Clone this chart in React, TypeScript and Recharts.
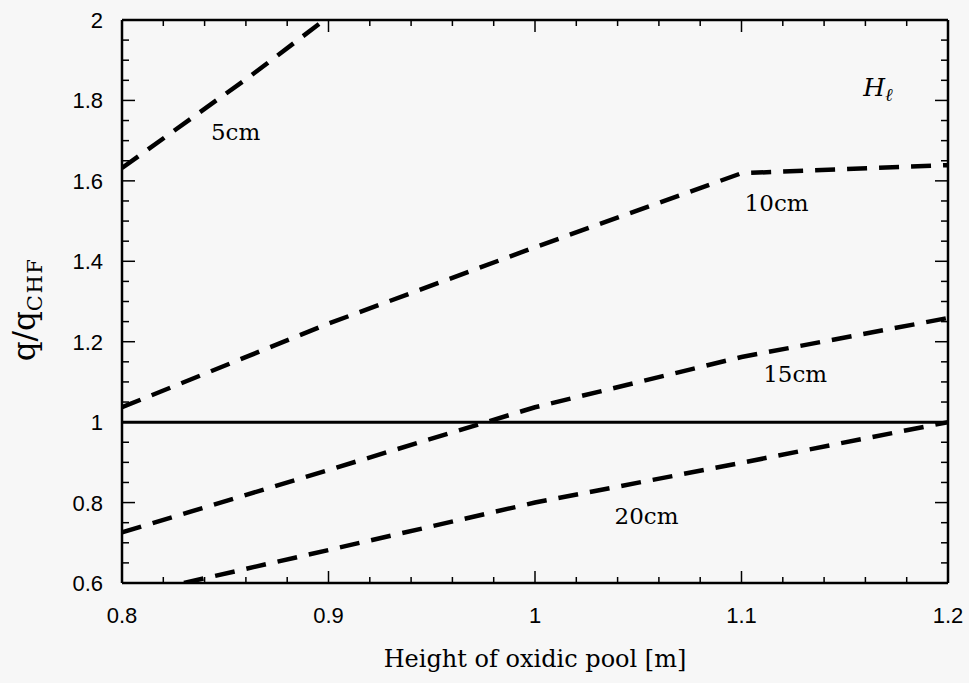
import { LineChart, Line, XAxis, YAxis, ReferenceLine, ReferenceDot } from 'recharts';

// tick positions (minor + major) and the labelled ones
const xTicks = [0.8, 0.82, 0.84, 0.86, 0.88, 0.9, 0.92, 0.94, 0.96, 0.98, 1, 1.02, 1.04, 1.06, 1.08, 1.1, 1.12, 1.14, 1.16, 1.18, 1.2];
const xMajor = [0.8, 0.9, 1, 1.1, 1.2];
const yTicks = [0.6, 0.65, 0.7, 0.75, 0.8, 0.85, 0.9, 0.95, 1, 1.05, 1.1, 1.15, 1.2, 1.25, 1.3, 1.35, 1.4, 1.45, 1.5, 1.55, 1.6, 1.65, 1.7, 1.75, 1.8, 1.85, 1.9, 1.95, 2];
const yMajor = [0.6, 0.8, 1, 1.2, 1.4, 1.6, 1.8, 2];

// q/qCHF vs height of oxidic pool, one list per light metal layer thickness
const layer5cm = [
  { h: 0.8, q: 1.632 },
  { h: 0.862, q: 1.86 },
  { h: 0.898, q: 2.0 },
];
const layer10cm = [
  { h: 0.8, q: 1.037 },
  { h: 0.9, q: 1.245 },
  { h: 1.0, q: 1.435 },
  { h: 1.1, q: 1.619 },
  { h: 1.2, q: 1.639 },
];
const layer15cm = [
  { h: 0.8, q: 0.726 },
  { h: 0.9, q: 0.881 },
  { h: 1.0, q: 1.037 },
  { h: 1.1, q: 1.162 },
  { h: 1.2, q: 1.259 },
];
const layer20cm = [
  { h: 0.83, q: 0.6 },
  { h: 0.9, q: 0.682 },
  { h: 1.0, q: 0.8 },
  { h: 1.1, q: 0.899 },
  { h: 1.2, q: 1.0 },
];

const curveLabels = [
  { text: '5cm', h: 0.855, q: 1.721 },
  { text: '10cm', h: 1.117, q: 1.545 },
  { text: '15cm', h: 1.126, q: 1.119 },
  { text: '20cm', h: 1.054, q: 0.766 },
];

const SANS = 'Liberation Sans, Arial, sans-serif';
const SERIF = 'DejaVu Serif, serif';

const isMajor = (v: number, list: number[]) => list.some(m => Math.abs(m - v) < 1e-6);

const BottomTick = ({ x, y, payload }: any) => {
  const major = isMajor(payload.value, xMajor);
  return (
    <g>
      <line x1={x} y1={y} x2={x} y2={y - (major ? 12 : 6)} stroke="#000" strokeWidth={1.5} />
      {major && (
        <text x={x} y={y + 40} textAnchor="middle" style={{ fontFamily: SANS, fontSize: 22 }} fill="#000">
          {String(payload.value)}
        </text>
      )}
    </g>
  );
};

const TopTick = ({ x, y, payload }: any) => {
  const major = isMajor(payload.value, xMajor);
  return <line x1={x} y1={y} x2={x} y2={y + (major ? 12 : 6)} stroke="#000" strokeWidth={1.5} />;
};

const LeftTick = ({ x, y, payload }: any) => {
  const major = isMajor(payload.value, yMajor);
  return (
    <g>
      <line x1={x} y1={y} x2={x + (major ? 13 : 7)} y2={y} stroke="#000" strokeWidth={1.5} />
      {major && (
        <text x={x - 19} y={y + 8} textAnchor="end" style={{ fontFamily: SANS, fontSize: 22 }} fill="#000">
          {String(payload.value)}
        </text>
      )}
    </g>
  );
};

const RightTick = ({ x, y, payload }: any) => {
  const major = isMajor(payload.value, yMajor);
  return <line x1={x} y1={y} x2={x - (major ? 13 : 7)} y2={y} stroke="#000" strokeWidth={1.5} />;
};

const XTitle = ({ viewBox }: any) => (
  <text x={viewBox.x + viewBox.width / 2} y={viewBox.y + 84} textAnchor="middle" style={{ fontFamily: SERIF, fontSize: 24 }} fill="#000">
    Height of oxidic pool [m]
  </text>
);

const YTitle = ({ viewBox }: any) => {
  const cx = viewBox.x - 27;
  const cy = viewBox.y + viewBox.height / 2 + 8;
  return (
    <text x={cx} y={cy} transform={`rotate(-90, ${cx}, ${cy})`} textAnchor="middle" style={{ fontFamily: SERIF, fontSize: 31 }} fill="#000">
      q/q
      <tspan style={{ fontSize: 21 }} dy={7} letterSpacing={1.5}>CHF</tspan>
    </text>
  );
};

const CurveLabel = (text: string) => ({ viewBox }: any) => (
  <text
    x={viewBox.x + viewBox.width / 2}
    y={viewBox.y + viewBox.height / 2 + 8}
    textAnchor="middle"
    style={{ fontFamily: SERIF, fontSize: 23 }}
    fill="#000"
  >
    {text}
  </text>
);

const HLabel = ({ viewBox }: any) => (
  <text x={viewBox.x + viewBox.width / 2} y={viewBox.y + viewBox.height / 2 + 8} textAnchor="middle" style={{ fontFamily: SERIF }} fill="#000">
    <tspan fontStyle="italic" style={{ fontSize: 25 }}>H</tspan>
    <tspan fontStyle="italic" style={{ fontSize: 18 }} dy={5}>ℓ</tspan>
  </text>
);

const dashProps = {
  type: 'linear' as const,
  dataKey: 'q',
  stroke: '#000',
  strokeWidth: 4.5,
  strokeDasharray: '20 12',
  dot: false,
  activeDot: false,
  isAnimationActive: false,
};

const frame = { stroke: '#000', strokeWidth: 2.5 };

export default function App() {
  return (
    <div style={{ position: 'absolute', left: 0, top: 0, width: 969, height: 683, background: '#f7f7f7' }}>
      <LineChart width={969} height={683} margin={{ top: 19, right: 20, bottom: 60, left: 62 }}>
        <XAxis
          dataKey="h"
          type="number"
          domain={[0.8, 1.2]}
          allowDataOverflow
          ticks={xTicks}
          interval={0}
          tickSize={0}
          tickMargin={0}
          tickLine={false}
          tick={<BottomTick />}
          height={40}
          axisLine={frame}
          label={<XTitle />}
        />
        <XAxis
          xAxisId="top"
          orientation="top"
          dataKey="h"
          type="number"
          domain={[0.8, 1.2]}
          allowDataOverflow
          ticks={xTicks}
          interval={0}
          tickSize={0}
          tickMargin={0}
          tickLine={false}
          tick={<TopTick />}
          height={1}
          axisLine={frame}
        />
        <YAxis
          type="number"
          domain={[0.6, 2]}
          allowDataOverflow
          ticks={yTicks}
          interval={0}
          tickSize={0}
          tickMargin={0}
          tickLine={false}
          tick={<LeftTick />}
          width={60}
          axisLine={frame}
          label={<YTitle />}
        />
        <YAxis
          yAxisId="right"
          orientation="right"
          type="number"
          domain={[0.6, 2]}
          allowDataOverflow
          ticks={yTicks}
          interval={0}
          tickSize={0}
          tickMargin={0}
          tickLine={false}
          tick={<RightTick />}
          width={1}
          axisLine={frame}
        />
        <ReferenceLine y={1} stroke="#000" strokeWidth={3} />
        <Line {...dashProps} data={layer5cm} name="5cm" />
        <Line {...dashProps} data={layer10cm} name="10cm" />
        <Line {...dashProps} data={layer15cm} name="15cm" />
        <Line {...dashProps} data={layer20cm} name="20cm" />
        {curveLabels.map(l => (
          <ReferenceDot key={l.text} x={l.h} y={l.q} r={1} fill="none" stroke="none" label={CurveLabel(l.text)} />
        ))}
        <ReferenceDot x={1.166} y={1.831} r={1} fill="none" stroke="none" label={<HLabel />} />
      </LineChart>
    </div>
  );
}
